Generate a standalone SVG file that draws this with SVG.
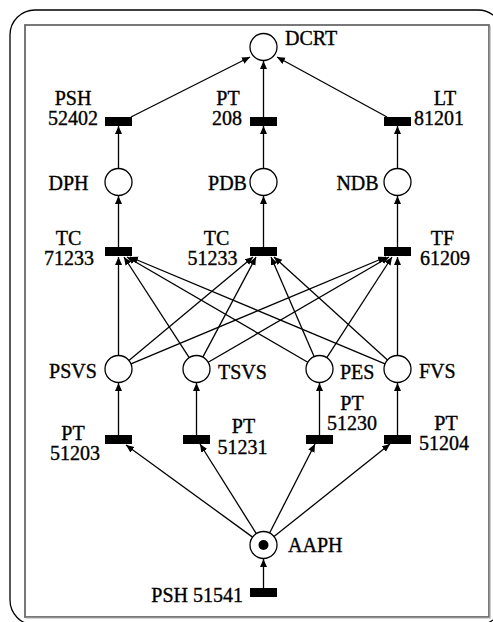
<svg xmlns="http://www.w3.org/2000/svg" width="493" height="622" viewBox="0 0 493 622">
<defs>
<style>
.pl{fill:#fff;stroke:#000;stroke-width:1.3}
.tr{fill:#000}
.ln{stroke:#000;stroke-width:1.3;fill:none;marker-end:url(#ah)}
text{font-family:"Liberation Serif","Times New Roman",serif;font-size:20px;fill:#000;stroke:#000;stroke-width:0.35}
.m{text-anchor:middle}
.e{text-anchor:end}
</style>
<marker id="ah" markerUnits="userSpaceOnUse" markerWidth="10" markerHeight="8" refX="8" refY="3.5" orient="auto">
<path d="M0,0 L8,3.5 L0,7 z" fill="#000"/>
</marker>
</defs>
<rect width="493" height="622" fill="#fff"/>
<rect x="10" y="10" width="493" height="615" rx="25" ry="25" fill="none" stroke="#000" stroke-width="1.3"/>
<rect x="25" y="25" width="464" height="592" fill="none" stroke="#6a6a6a" stroke-width="1.8"/>
<path d="M490,26 V618 H26" fill="none" stroke="#aaa" stroke-width="1.2"/>

<g id="connectors">
<line class="ln" x1="131" y1="117" x2="250" y2="57"/>
<line class="ln" x1="263.5" y1="117" x2="263.5" y2="61"/>
<line class="ln" x1="387" y1="117" x2="277" y2="57"/>
<line class="ln" x1="118.5" y1="168.5" x2="118.5" y2="126"/>
<line class="ln" x1="263.5" y1="168.5" x2="263.5" y2="126"/>
<line class="ln" x1="397.5" y1="168.5" x2="397.5" y2="126"/>
<line class="ln" x1="118.5" y1="247" x2="118.5" y2="196"/>
<line class="ln" x1="263.5" y1="247" x2="263.5" y2="196"/>
<line class="ln" x1="397.5" y1="247" x2="397.5" y2="196"/>
<line class="ln" x1="118.5" y1="355.5" x2="118.5" y2="257"/>
<line class="ln" x1="128.9" y1="360.4" x2="253" y2="257"/>
<line class="ln" x1="131" y1="363.8" x2="386" y2="257"/>
<line class="ln" x1="189.2" y1="357.7" x2="124" y2="257"/>
<line class="ln" x1="202.8" y1="357.1" x2="256" y2="257"/>
<line class="ln" x1="208.2" y1="362.2" x2="389" y2="257"/>
<line class="ln" x1="307.8" y1="362.2" x2="127" y2="257"/>
<line class="ln" x1="314.1" y1="356.6" x2="271" y2="257"/>
<line class="ln" x1="326.8" y1="357.7" x2="392" y2="257"/>
<line class="ln" x1="385" y1="363.8" x2="130" y2="257"/>
<line class="ln" x1="387.5" y1="359.9" x2="274" y2="257"/>
<line class="ln" x1="397.5" y1="355.5" x2="397.5" y2="257"/>
<line class="ln" x1="118.5" y1="435" x2="118.5" y2="383"/>
<line class="ln" x1="196.5" y1="435" x2="196.5" y2="383"/>
<line class="ln" x1="319.5" y1="435" x2="319.5" y2="383"/>
<line class="ln" x1="397.5" y1="435" x2="397.5" y2="383"/>
<line class="ln" x1="252.6" y1="537.1" x2="126" y2="445"/>
<line class="ln" x1="256.3" y1="533.6" x2="200" y2="444"/>
<line class="ln" x1="269.6" y1="533" x2="315" y2="444"/>
<line class="ln" x1="274" y1="536.6" x2="390" y2="444"/>
<line class="ln" x1="263.5" y1="588" x2="263.5" y2="559"/>
</g>

<g id="DCRT"><circle class="pl" cx="263.5" cy="47" r="13.5"/><text x="285" y="45">DCRT</text></g>
<g id="PSH52402"><rect class="tr" x="105" y="117" width="27" height="9"/><text class="m" x="73" y="105">PSH</text><text class="m" x="73" y="125">52402</text></g>
<g id="PT208"><rect class="tr" x="250" y="117" width="27" height="9"/><text class="m" x="228" y="105">PT</text><text class="m" x="227" y="125">208</text></g>
<g id="LT81201"><rect class="tr" x="384" y="117" width="27" height="9"/><text class="m" x="445" y="105">LT</text><text class="m" x="439" y="125">81201</text></g>
<g id="DPH"><circle class="pl" cx="118.5" cy="182" r="13.5"/><text class="m" x="68.5" y="190">DPH</text></g>
<g id="PDB"><circle class="pl" cx="263.5" cy="182" r="13.5"/><text class="m" x="227.5" y="190">PDB</text></g>
<g id="NDB"><circle class="pl" cx="397.5" cy="182" r="13.5"/><text class="m" x="357.5" y="190">NDB</text></g>
<g id="TC71233"><rect class="tr" x="105" y="247" width="27" height="9"/><text class="m" x="68.5" y="245">TC</text><text class="m" x="69" y="265">71233</text></g>
<g id="TC51233"><rect class="tr" x="250" y="247" width="27" height="9"/><text class="m" x="216.5" y="245">TC</text><text class="m" x="212.5" y="265">51233</text></g>
<g id="TF61209"><rect class="tr" x="384" y="247" width="27" height="9"/><text class="m" x="442.5" y="245">TF</text><text class="m" x="445" y="265">61209</text></g>
<g id="PSVS"><circle class="pl" cx="118.5" cy="369" r="13.5"/><text class="m" x="73" y="378">PSVS</text></g>
<g id="TSVS"><circle class="pl" cx="196.5" cy="369" r="13.5"/><text x="218" y="379">TSVS</text></g>
<g id="PES"><circle class="pl" cx="319.5" cy="369" r="13.5"/><text x="340" y="379">PES</text></g>
<g id="FVS"><circle class="pl" cx="397.5" cy="369" r="13.5"/><text x="419" y="378">FVS</text></g>
<g id="PT51203"><rect class="tr" x="105" y="435" width="27" height="9"/><text class="m" x="73" y="440">PT</text><text class="m" x="75" y="460">51203</text></g>
<g id="PT51231"><rect class="tr" x="183" y="435" width="27" height="9"/><text class="m" x="243.5" y="433">PT</text><text class="m" x="242.5" y="454">51231</text></g>
<g id="PT51230"><rect class="tr" x="306" y="435" width="27" height="9"/><text class="m" x="352" y="410">PT</text><text class="m" x="352" y="430">51230</text></g>
<g id="PT51204"><rect class="tr" x="384" y="435" width="27" height="9"/><text class="m" x="446" y="430">PT</text><text class="m" x="444" y="450">51204</text></g>
<g id="AAPH"><circle class="pl" cx="263.5" cy="545" r="13.5"/><circle cx="263.5" cy="545" r="5" fill="#000"/><text x="288" y="552">AAPH</text></g>
<g id="PSH51541"><rect class="tr" x="250" y="588" width="27" height="9"/><text class="e" x="243" y="602">PSH 51541</text></g>
</svg>
